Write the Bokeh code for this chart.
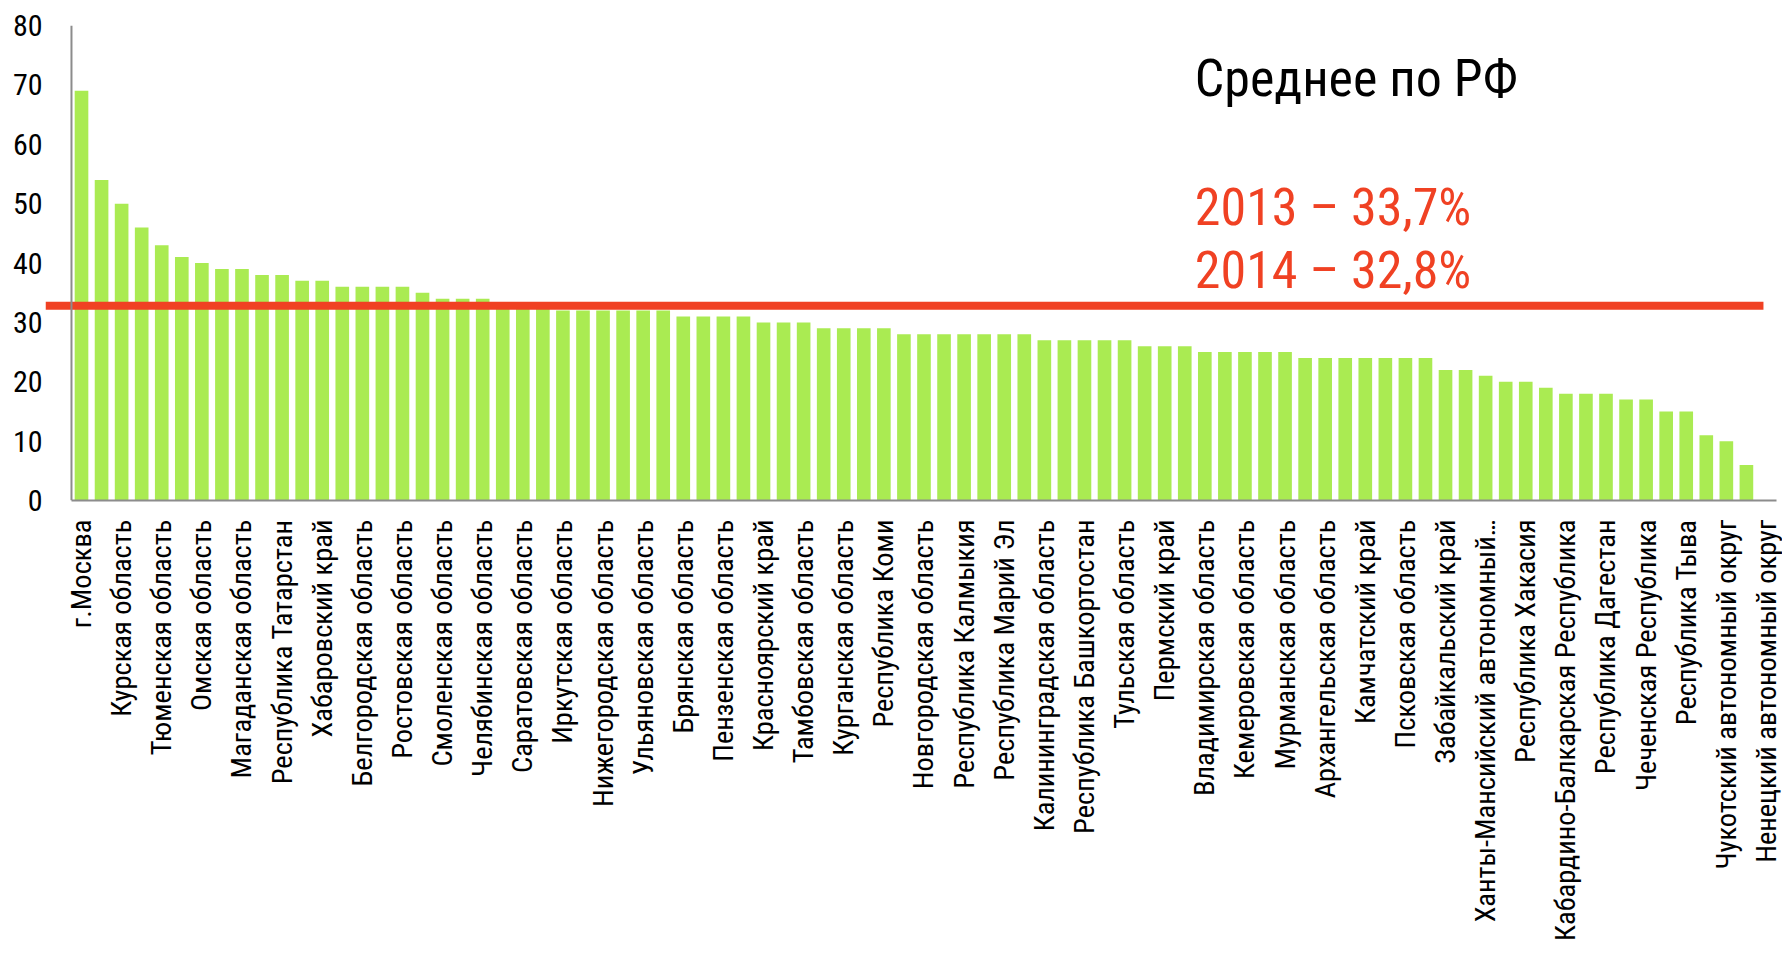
import math
from bokeh.plotting import figure
from bokeh.models import Range1d, FixedTicker, Span, Label, ColumnDataSource
from bokeh.embed import file_html
from bokeh.resources import INLINE

# shown category labels (every second category)
labels = [
    "г.Москва", "Курская область", "Тюменская область", "Омская область",
    "Магаданская область", "Республика Татарстан", "Хабаровский край",
    "Белгородская область", "Ростовская область", "Смоленская область",
    "Челябинская область", "Саратовская область", "Иркутская область",
    "Нижегородская область", "Ульяновская область", "Брянская область",
    "Пензенская область", "Красноярский край", "Тамбовская область",
    "Курганская область", "Республика Коми", "Новгородская область",
    "Республика Калмыкия", "Республика Марий Эл", "Калининградская область",
    "Республика Башкортостан", "Тульская область", "Пермский край",
    "Владимирская область", "Кемеровская область", "Мурманская область",
    "Архангельская область", "Камчатский край", "Псковская область",
    "Забайкальский край", "Ханты-Мансийский автономный…", "Республика Хакасия",
    "Кабардино-Балкарская Республика", "Республика Дагестан",
    "Чеченская Республика", "Республика Тыва", "Чукотский автономный округ",
    "Ненецкий автономный округ",
]

# values for all categories (last category has no bar)
values = [
    69, 54, 50, 46, 43, 41, 40, 39, 39, 38,
    38, 37, 37, 36, 36, 36, 36, 35, 34, 34,
    34, 33, 33, 33, 32, 32, 32, 32, 32, 32,
    31, 31, 31, 31, 30, 30, 30, 29, 29, 29,
    29, 28, 28, 28, 28, 28, 28, 28, 27, 27,
    27, 27, 27, 26, 26, 26, 25, 25, 25, 25,
    25, 24, 24, 24, 24, 24, 24, 24, 22, 22,
    21, 20, 20, 19, 18, 18, 18, 17, 17, 15,
    15, 11, 10, 6, None,
]

rf_avg_2014 = 32.8
y_ticks = [0, 10, 20, 30, 40, 50, 60, 70, 80]

title_text = "Среднее по РФ"
avg_lines = ["2013 – 33,7%", "2014 – 32,8%"]

FONT = "Roboto Condensed"
GREEN = "#AAEB52"
RED = "#F04123"
GRAY = "#8c8c8c"

n = len(values)
xs = list(range(n))
tops = [float("nan") if v is None else v for v in values]
src = ColumnDataSource(dict(x=xs, top=tops))

p = figure(width=1782, height=948, output_backend="svg", toolbar_location=None,
           x_range=Range1d(-1.795, n - 0.5), y_range=Range1d(y_ticks[0], y_ticks[-1]),
           min_border_left=45, min_border_right=6, min_border_top=25,
           min_border_bottom=448)
p.outline_line_color = None
p.xgrid.grid_line_color = None
p.ygrid.grid_line_color = None

p.vbar(x="x", top="top", bottom=0, width=0.68, source=src,
       fill_color=GREEN, line_color=None)

# y axis line at the left edge of the first category
p.add_layout(Span(location=-0.5, dimension="height", line_color=GRAY, line_width=2))

# national average line
p.segment(x0=[p.x_range.start], x1=[n - 1.15], y0=[rf_avg_2014], y1=[rf_avg_2014],
          line_color=RED, line_width=8)

xa = p.xaxis[0]
xa.ticker = FixedTicker(ticks=list(range(0, n, 2)))
xa.major_label_overrides = {i: lab for i, lab in zip(range(0, n, 2), labels)}
xa.major_label_orientation = math.pi / 2
xa.major_label_text_font = FONT
xa.major_label_text_font_size = "28.5px"
xa.major_label_text_color = "black"
xa.major_label_standoff = 19
xa.major_tick_in = 0
xa.major_tick_out = 0
xa.major_tick_line_color = None
xa.minor_tick_line_color = None
xa.axis_line_color = GRAY
xa.axis_line_width = 2
xa.bounds = (-0.5, n - 0.5)

ya = p.yaxis[0]
ya.ticker = FixedTicker(ticks=y_ticks)
ya.major_label_text_font = FONT
ya.major_label_text_font_size = "30px"
ya.major_label_text_color = "black"
ya.major_label_standoff = 3
ya.major_tick_in = 0
ya.major_tick_out = 0
ya.major_tick_line_color = None
ya.minor_tick_line_color = None
ya.axis_line_color = None

p.add_layout(Label(x=55.5, y=71.1, text=title_text, text_font=FONT,
                   text_font_size="52px", text_color="black",
                   text_baseline="alphabetic"))
for txt, yy in zip(avg_lines, [49.35, 38.75]):
    p.add_layout(Label(x=55.5, y=yy, text=txt, text_font=FONT,
                       text_font_size="52px", text_color=RED,
                       text_baseline="alphabetic"))

open("out.html", "w").write(file_html(p, INLINE))
